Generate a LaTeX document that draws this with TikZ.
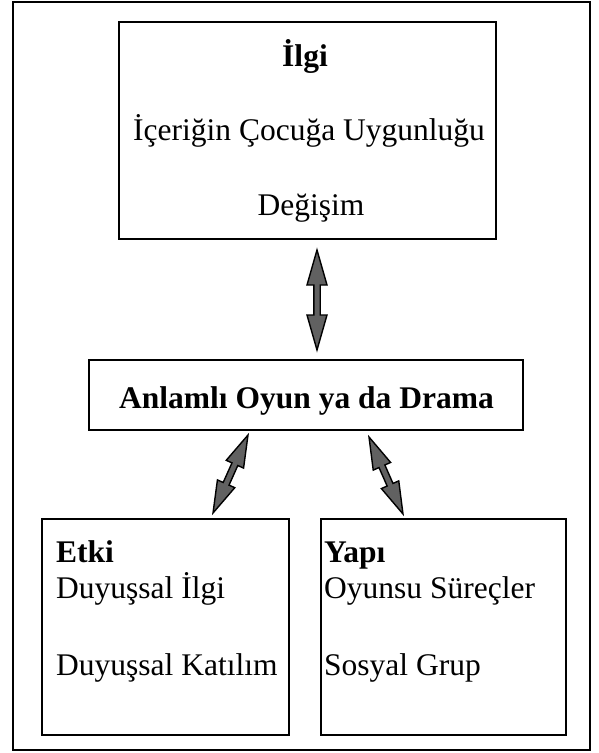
\documentclass[tikz,border=0pt]{standalone}
\usepackage{fontspec}
\setmainfont{Liberation Serif}
\usetikzlibrary{calc}
\tikzset{
  box/.style={draw, line width=2.3pt, rectangle, inner sep=0pt},
  frame/.style={draw, line width=2pt, rectangle, inner sep=0pt},
  txt/.style={inner sep=0pt, font=\fontsize{31.5}{38}\selectfont},
  btxt/.style={inner sep=0pt, font=\fontsize{31.5}{38}\selectfont\bfseries},
  barrow/.style={draw=black, line width=1.4pt, fill=black!62, line join=miter},
}
\newcommand\blockarrow[4]{%
  \path let \p1=(#1), \p2=(#2) in \pgfextra{%
    \pgfmathsetmacro\baX{\x1}\pgfmathsetmacro\baY{\y1}%
    \pgfmathsetmacro\baA{atan2(\y2-\y1,\x2-\x1)}%
    \pgfmathsetmacro\baL{veclen(\x2-\x1,\y2-\y1)}%
    \xdef\baX{\baX}\xdef\baY{\baY}\xdef\baA{\baA}\xdef\baL{\baL}};
  \pgfmathsetmacro\baH{#3}\pgfmathsetmacro\baW{#4}%
  \pgfmathsetmacro\baE{\baL-\baH}%
  \begin{scope}[shift={(\baX pt,\baY pt)}, rotate=\baA]
    \draw[barrow] (0pt,0pt) -- (\baH pt,\baW pt) -- (\baH pt,3.2pt) -- (\baE pt,3.2pt)
      -- (\baE pt,\baW pt) -- (\baL pt,0pt) -- (\baE pt,-\baW pt) -- (\baE pt,-3.2pt)
      -- (\baH pt,-3.2pt) -- (\baH pt,-\baW pt) -- cycle;
  \end{scope}%
}
\begin{document}
\begin{tikzpicture}[x=1pt,y=-1pt]
\useasboundingbox (0,0) rectangle (598,753);
% outer frame
\node[frame, minimum width=577pt, minimum height=748pt] (outer) at (301.5,376) {};
% boxes
\node[box, minimum width=377pt, minimum height=217pt] (ilgi) at (307.5,130.5) {};
\node[box, minimum width=434pt, minimum height=70pt] (oyun) at (306,395) {};
\node[box, minimum width=247pt, minimum height=216pt] (etki) at (165.5,627) {};
\node[box, minimum width=245pt, minimum height=216pt] (yapi) at (443.5,627) {};
% texts
\node[btxt, anchor=base] (t1) at (305,66) {İlgi};
\node[txt, anchor=base] (t2) at (309,140) {İçeriğin Çocuğa Uygunluğu};
\node[txt, anchor=base] (t3) at (311,215) {Değişim};
\node[btxt, anchor=base] (t4) at (306.5,408) {Anlamlı Oyun ya da Drama};
\node[btxt, anchor=base west] (t5) at (56,562) {Etki};
\node[txt, anchor=base west] (t6) at (56,598) {Duyuşsal İlgi};
\node[txt, anchor=base west] (t7) at (56,675) {Duyuşsal Katılım};
\node[btxt, anchor=base west] (t8) at (324,562) {Yapı};
\node[txt, anchor=base west] (t9) at (324,598) {Oyunsu Süreçler};
\node[txt, anchor=base west] (t10) at (324,675) {Sosyal Grup};
% arrow ends
\coordinate (a1s) at (317,250);
\coordinate (a1e) at (317,350);
\coordinate (a2s) at (248,435);
\coordinate (a2e) at (213,513);
\coordinate (a3s) at (369,437);
\coordinate (a3e) at (403,514);
\blockarrow{a1s}{a1e}{35}{10}
\blockarrow{a2s}{a2e}{32}{9.5}
\blockarrow{a3s}{a3e}{32}{9.5}
\end{tikzpicture}
\end{document}
